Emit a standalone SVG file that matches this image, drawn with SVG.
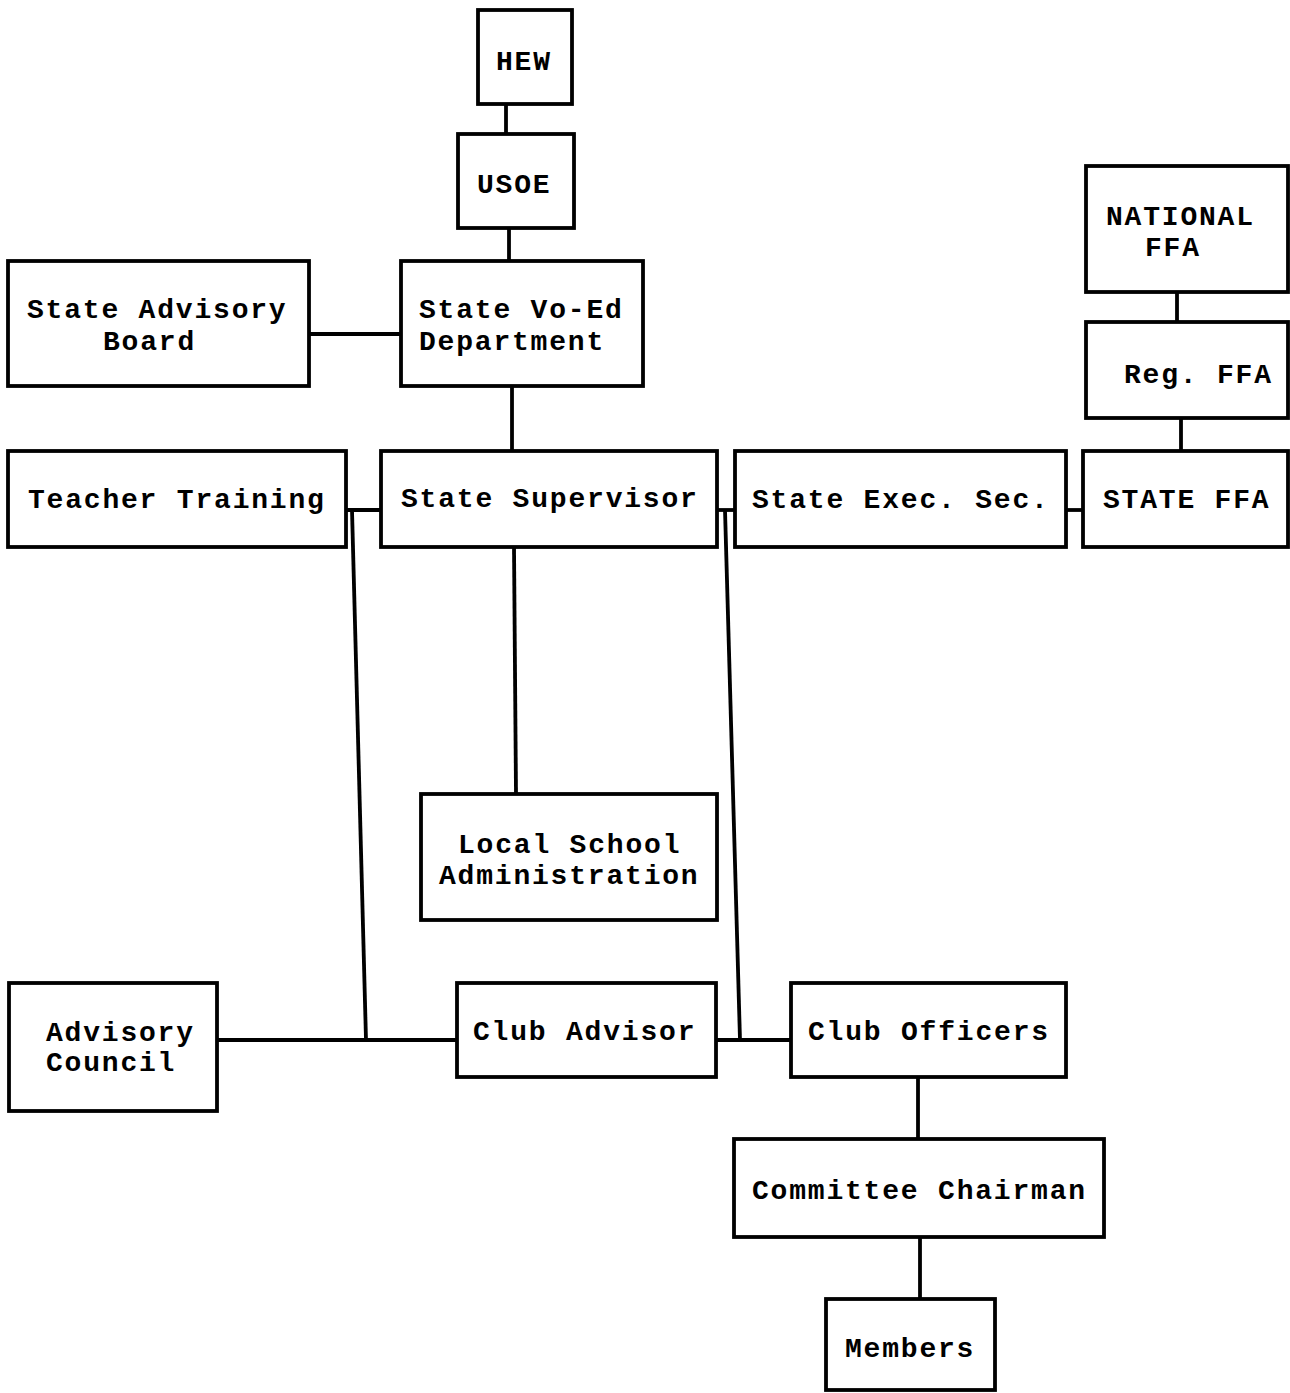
<svg xmlns="http://www.w3.org/2000/svg" width="1290" height="1393" viewBox="0 0 1290 1393">
<style>
rect{fill:none;stroke:#000;stroke-width:3.8}
.c line{stroke:#000;stroke-width:3.8;fill:none}
text{font-family:"Liberation Mono","Courier New",monospace;font-size:28px;font-weight:bold;letter-spacing:1.8px;fill:#000}
</style>
<rect x="0" y="0" width="1290" height="1393" style="fill:#fff;stroke:none"/>
<g class="c" id="connectors">
<line x1="506" y1="104" x2="506" y2="134"/>
<line x1="509" y1="228" x2="509" y2="261"/>
<line x1="309" y1="334" x2="401" y2="334"/>
<line x1="512" y1="386" x2="512" y2="451"/>
<line x1="346" y1="510" x2="381" y2="510"/>
<line x1="352" y1="510" x2="366" y2="1040"/>
<line x1="217" y1="1040" x2="457" y2="1040"/>
<line x1="717" y1="510" x2="735" y2="510"/>
<line x1="725" y1="510" x2="740" y2="1040"/>
<line x1="716" y1="1040" x2="791" y2="1040"/>
<line x1="1066" y1="510" x2="1083" y2="510"/>
<line x1="514" y1="547" x2="516" y2="794"/>
<line x1="918" y1="1077" x2="918" y2="1139"/>
<line x1="920" y1="1237" x2="920" y2="1299"/>
<line x1="1177" y1="292" x2="1177" y2="322"/>
<line x1="1181" y1="418" x2="1181" y2="451"/>
</g>
<g id="hew"><rect x="478" y="10" width="94" height="94"/><text x="496" y="70">HEW</text></g>
<g id="usoe"><rect x="458" y="134" width="116" height="94"/><text x="477" y="193">USOE</text></g>
<g id="state-advisory-board"><rect x="8" y="261" width="301" height="125"/><text x="27" y="318">State Advisory</text><text x="103" y="350">Board</text></g>
<g id="state-voed"><rect x="401" y="261" width="242" height="125"/><text x="419" y="318">State Vo-Ed</text><text x="419" y="350">Department</text></g>
<g id="national-ffa"><rect x="1086" y="166" width="202" height="126"/><text x="1106" y="225">NATIONAL</text><text x="1145" y="256">FFA</text></g>
<g id="reg-ffa"><rect x="1086" y="322" width="202" height="96"/><text x="1124" y="383">Reg. FFA</text></g>
<g id="teacher-training"><rect x="8" y="451" width="338" height="96"/><text x="28" y="508">Teacher Training</text></g>
<g id="state-supervisor"><rect x="381" y="451" width="336" height="96"/><text x="401" y="507">State Supervisor</text></g>
<g id="state-exec-sec"><rect x="735" y="451" width="331" height="96"/><text x="752" y="508">State Exec. Sec.</text></g>
<g id="state-ffa"><rect x="1083" y="451" width="205" height="96"/><text x="1103" y="508">STATE FFA</text></g>
<g id="local-school"><rect x="421" y="794" width="296" height="126"/><text x="458" y="853">Local School</text><text x="439" y="884">Administration</text></g>
<g id="advisory-council"><rect x="9" y="983" width="208" height="128"/><text x="46" y="1041">Advisory</text><text x="46" y="1071">Council</text></g>
<g id="club-advisor"><rect x="457" y="983" width="259" height="94"/><text x="473" y="1040">Club Advisor</text></g>
<g id="club-officers"><rect x="791" y="983" width="275" height="94"/><text x="808" y="1040">Club Officers</text></g>
<g id="committee-chairman"><rect x="734" y="1139" width="370" height="98"/><text x="752" y="1199">Committee Chairman</text></g>
<g id="members"><rect x="826" y="1299" width="169" height="91"/><text x="845" y="1357">Members</text></g>
</svg>
